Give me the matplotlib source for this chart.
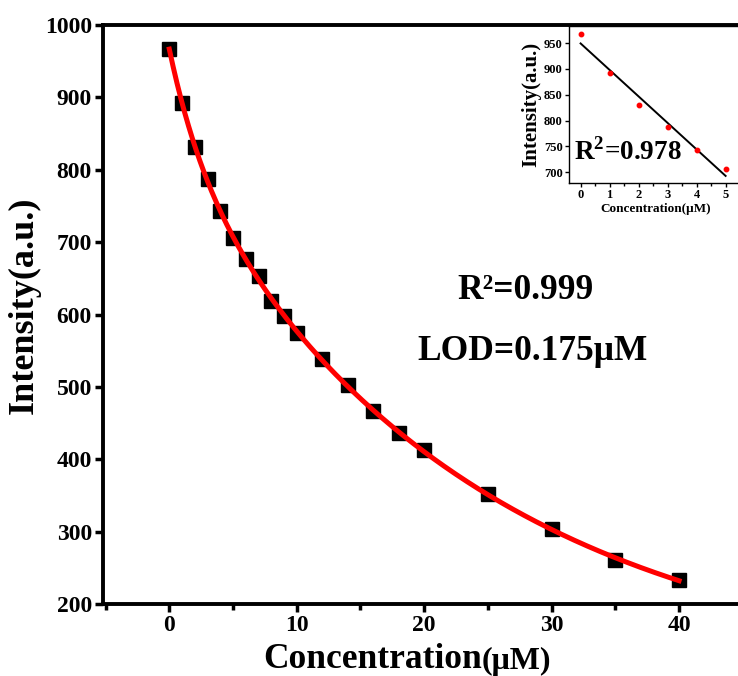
import matplotlib
matplotlib.use("Agg")
import matplotlib.pyplot as plt
from matplotlib.ticker import MultipleLocator
import numpy as np

plt.rcParams['font.family'] = ['Liberation Serif', 'DejaVu Serif']
plt.rcParams['font.weight'] = 'bold'
plt.rcParams['mathtext.fontset'] = 'custom'
plt.rcParams['mathtext.rm'] = 'Liberation Serif:bold'
plt.rcParams['mathtext.bf'] = 'Liberation Serif:bold'

# data
conc = [0, 1, 2, 3, 4, 5, 6, 7, 8, 9, 10, 12, 14, 16, 18, 20, 25, 30, 35, 40]
intensity = [967, 892, 831, 787, 743, 706, 677, 653, 619, 598, 574,
             538, 502, 467, 436, 413, 352, 304, 261, 233]
inset_n = 6  # first six points are used for the linear inset

x = np.array(conc, dtype=float)
y = np.array(intensity, dtype=float)

# ExpDec2 fit: y = A1*exp(-x/t1) + A2*exp(-x/t2) + y0
best = None
for t1 in np.linspace(0.5, 15, 59):
    for t2 in np.linspace(10, 150, 141):
        M = np.column_stack([np.exp(-x / t1), np.exp(-x / t2), np.ones_like(x)])
        coef = np.linalg.lstsq(M, y, rcond=None)[0]
        r = np.sum((M @ coef - y) ** 2)
        if best is None or r < best[0]:
            best = (r, t1, t2, coef)
_, t1, t2, c = best
xf = np.linspace(0, 40, 400)
yf = c[0] * np.exp(-xf / t1) + c[1] * np.exp(-xf / t2) + c[2]

fig = plt.figure(figsize=(7.38, 6.76), dpi=100)
ax = fig.add_axes([0.1396, 0.1065, 0.8669, 0.8565])
ax.plot(x, y, 's', color='black', ms=9.5, zorder=2)
ax.plot(xf, yf, color='red', lw=3.6, zorder=3)

ax.set_xlim(-5.2, 45)
ax.set_ylim(200, 1000)
ax.xaxis.set_major_locator(MultipleLocator(10))
ax.xaxis.set_minor_locator(MultipleLocator(5))
ax.yaxis.set_major_locator(MultipleLocator(100))
for s in ax.spines.values():
    s.set_linewidth(2.8)
ax.tick_params(which='major', direction='out', length=6, width=2.5,
               labelsize=17, pad=2)
ax.tick_params(which='minor', direction='out', length=4, width=2.5)
for lab in ax.get_xticklabels() + ax.get_yticklabels():
    lab.set_fontweight('bold')

# axis titles
t1_txt = fig.text(263 / 738, 1 - 668 / 676, 'Concentration', fontsize=25.5,
                  fontweight='bold', ha='left', va='baseline')
ax.annotate('(μM)', xy=(1, 0), xycoords=t1_txt, fontsize=23,
            fontweight='bold', ha='left', va='bottom', annotation_clip=False)
fig.text(24 / 738, 1 - 305 / 676, 'Intensity(a.u.)', fontsize=26,
         fontweight='bold', rotation=90, ha='center', va='center')

fig.text(525 / 738, 1 - 291 / 676, 'R²=0.999', fontsize=25.5, fontweight='bold',
         ha='center', va='center')
fig.text(533 / 738, 1 - 351 / 676, 'LOD=0.175μM', fontsize=25.5, fontweight='bold',
         ha='center', va='center')

# inset: linear range
xi = x[:inset_n]
yi = y[:inset_n]
k, b = np.polyfit(xi, yi, 1)
axi = fig.add_axes([0.771, 0.7293, 0.2358, 0.2322], zorder=5)
axi.plot(xi, k * xi + b, color='black', lw=1.4)
axi.plot(xi, yi, 'o', color='red', ms=3.2)
axi.set_xlim(-0.4, 5.6)
axi.set_ylim(679, 983)
axi.xaxis.set_major_locator(MultipleLocator(1))
axi.xaxis.set_minor_locator(MultipleLocator(0.5))
axi.yaxis.set_major_locator(MultipleLocator(50))
for s in axi.spines.values():
    s.set_linewidth(1.0)
axi.tick_params(which='major', direction='out', length=3, width=1,
                labelsize=9, pad=1.5)
axi.tick_params(which='minor', direction='out', length=2, width=1)
for lab in axi.get_xticklabels() + axi.get_yticklabels():
    lab.set_fontweight('bold')
axi.set_xlabel('Concentration(μM)', fontsize=9.5, fontweight='bold', labelpad=1)
axi.set_ylabel('Intensity(a.u.)', fontsize=15, fontweight='bold', labelpad=2)
axi.text(0.03, 0.2, r'R$^2$=0.978', transform=axi.transAxes, fontsize=19.5,
         fontweight='bold', va='center')

fig.savefig('out.png', dpi=100)
